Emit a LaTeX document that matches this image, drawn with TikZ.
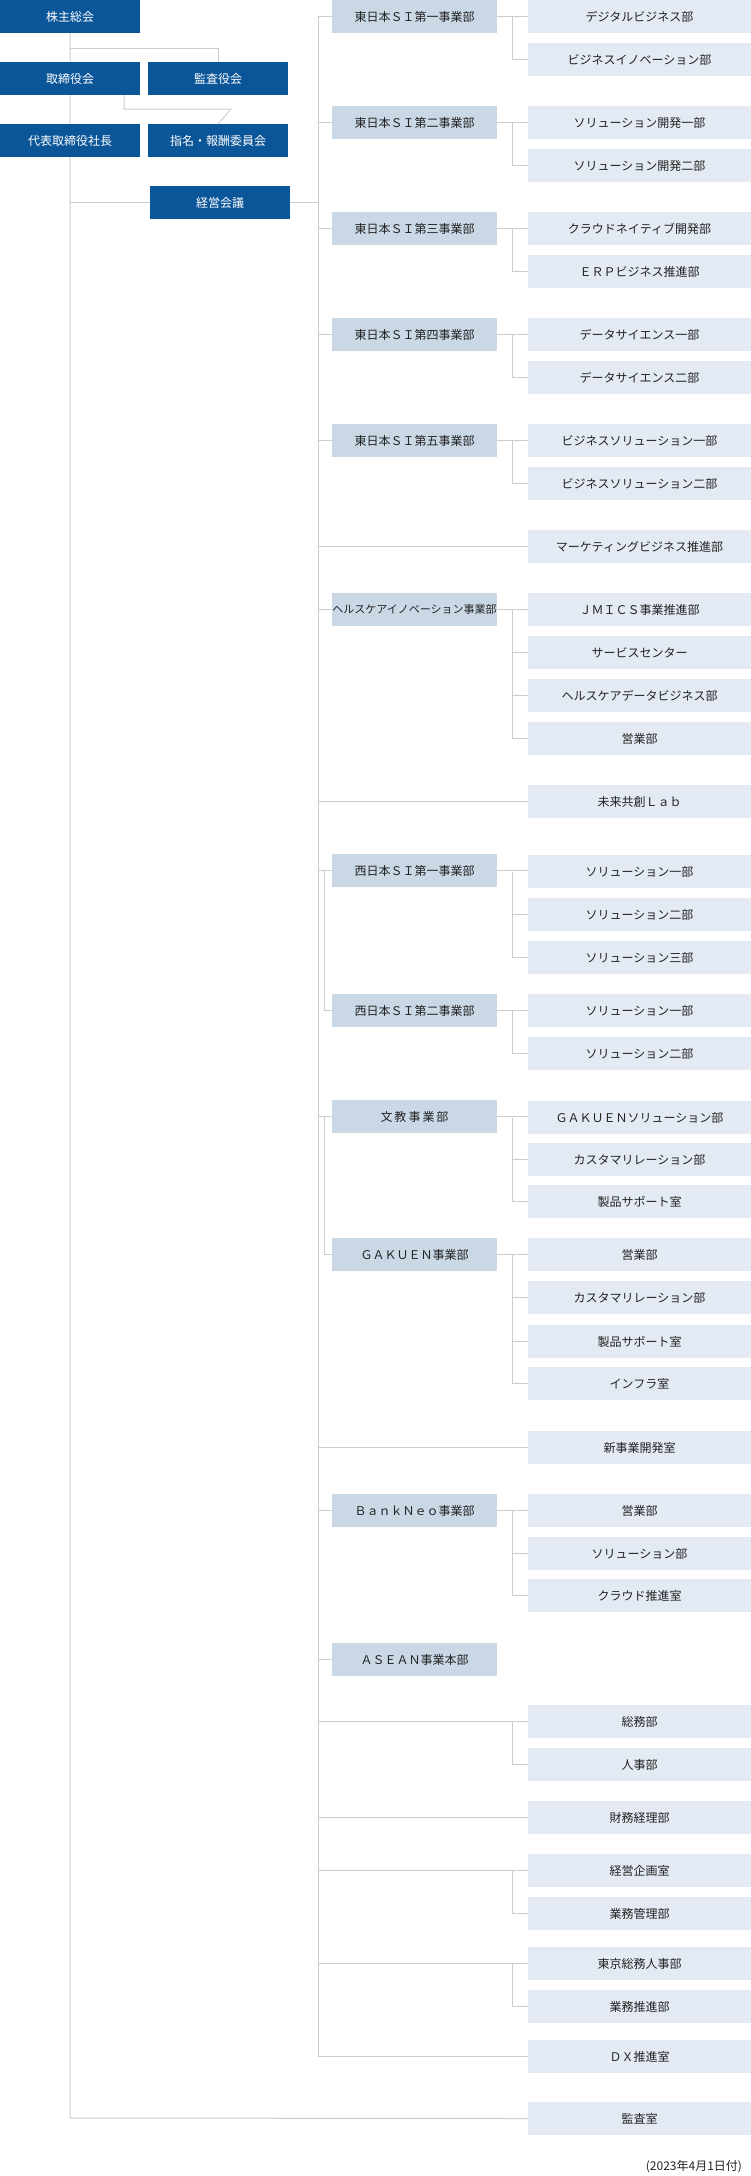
\documentclass[tikz,border=0pt]{standalone}
\usepackage{fontspec}
\setmainfont{Noto Sans CJK JP}
\begin{document}
\begin{tikzpicture}[x=1pt,y=-1pt,
  every node/.style={inner sep=0pt,outer sep=0pt,anchor=north west,font=\fontsize{12}{14}\selectfont},
  dark/.style={fill=dblue,text=white,minimum width=140,minimum height=33},
  head/.style={fill=headc,text=txt,minimum width=165,minimum height=33},
  leaf/.style={fill=leafc,text=txt,minimum width=223,minimum height=33},
  ln/.style={draw=lnc,line width=1pt}]
\definecolor{dblue}{HTML}{0B5599}
\definecolor{headc}{HTML}{CAD8E6}
\definecolor{leafc}{HTML}{E3EAF3}
\definecolor{lnc}{HTML}{CCCCCC}
\definecolor{txt}{HTML}{222222}
\useasboundingbox (0,0) rectangle (751,2176);
% left column
\node[dark] (kabu) at (0,0) {株主総会};
\node[dark] (tori) at (0,62) {取締役会};
\node[dark] (kan) at (148,62) {監査役会};
\node[dark] (dai) at (0,124) {代表取締役社長};
\node[dark] (shi) at (148,124) {指名・報酬委員会};
\node[dark] (kei) at (150,186) {経営会議};
\node[leaf] (kansa) at (528,2102) {監査室};
\coordinate (lt) at (70,33);
\coordinate (lb) at (70,2118);
\coordinate (rt) at (318,16);
\coordinate (rb) at (318,2057);
\begin{scope}[on background layer/.try]
\end{scope}
\draw[ln] (lt) -- (lb) -- (kansa.west);
\draw[ln] (70,48) -| (kan.north);
\draw[ln] (124,95) |- (231,109) -- (shi.north);
\draw[ln] (kei.west -| lt) -- (kei.west);
\draw[ln] (kei.east) -- (kei.east -| rt);
\draw[ln] (rt) -- (rb);
% redraw left boxes on top of lines
\node[dark] at (0,62) {取締役会};
\node[dark] at (0,124) {代表取締役社長};
% heads
\node[head] (h1) at (332,0) {東日本ＳＩ第一事業部};
\node[head] (h2) at (332,106) {東日本ＳＩ第二事業部};
\node[head] (h3) at (332,212) {東日本ＳＩ第三事業部};
\node[head] (h4) at (332,318) {東日本ＳＩ第四事業部};
\node[head] (h5) at (332,424) {東日本ＳＩ第五事業部};
\node[head] (hc) at (332,593) {\fontsize{11}{13}\selectfont ヘルスケアイノベーション事業部};
\node[head] (w1) at (332,854) {西日本ＳＩ第一事業部};
\node[head] (w2) at (332,994) {西日本ＳＩ第二事業部};
\node[head] (bk) at (332,1100) {文\hspace{2pt}教\hspace{2pt}事\hspace{2pt}業\hspace{2pt}部};
\node[head] (ga) at (332,1238) {ＧＡＫＵＥＮ事業部};
\node[head] (bn) at (332,1494) {ＢａｎｋＮｅｏ事業部};
\node[head] (as) at (332,1643) {ＡＳＥＡＮ事業本部};
% leaves
\node[leaf] (h1a) at (528,0) {デジタルビジネス部};
\node[leaf] (h1b) at (528,43) {ビジネスイノベーション部};
\node[leaf] (h2a) at (528,106) {ソリューション開発一部};
\node[leaf] (h2b) at (528,149) {ソリューション開発二部};
\node[leaf] (h3a) at (528,212) {クラウドネイティブ開発部};
\node[leaf] (h3b) at (528,255) {ＥＲＰビジネス推進部};
\node[leaf] (h4a) at (528,318) {データサイエンス一部};
\node[leaf] (h4b) at (528,361) {データサイエンス二部};
\node[leaf] (h5a) at (528,424) {ビジネスソリューション一部};
\node[leaf] (h5b) at (528,467) {ビジネスソリューション二部};
\node[leaf] (mk) at (528,530) {マーケティングビジネス推進部};
\node[leaf] (hca) at (528,593) {ＪＭＩＣＳ事業推進部};
\node[leaf] (hcb) at (528,636) {サービスセンター};
\node[leaf] (hcc) at (528,679) {ヘルスケアデータビジネス部};
\node[leaf] (hcd) at (528,722) {営業部};
\node[leaf] (mr) at (528,785) {未来共創Ｌａｂ};
\node[leaf] (w1a) at (528,855) {ソリューション一部};
\node[leaf] (w1b) at (528,898) {ソリューション二部};
\node[leaf] (w1c) at (528,941) {ソリューション三部};
\node[leaf] (w2a) at (528,994) {ソリューション一部};
\node[leaf] (w2b) at (528,1037) {ソリューション二部};
\node[leaf] (bka) at (528,1101) {ＧＡＫＵＥＮソリューション部};
\node[leaf] (bkb) at (528,1143) {カスタマリレーション部};
\node[leaf] (bkc) at (528,1185) {製品サポート室};
\node[leaf] (gaa) at (528,1238) {営業部};
\node[leaf] (gab) at (528,1281) {カスタマリレーション部};
\node[leaf] (gac) at (528,1325) {製品サポート室};
\node[leaf] (gad) at (528,1367) {インフラ室};
\node[leaf] (sj) at (528,1431) {新事業開発室};
\node[leaf] (bna) at (528,1494) {営業部};
\node[leaf] (bnb) at (528,1537) {ソリューション部};
\node[leaf] (bnc) at (528,1579) {クラウド推進室};
\node[leaf] (so) at (528,1705) {総務部};
\node[leaf] (jn) at (528,1748) {人事部};
\node[leaf] (zm) at (528,1801) {財務経理部};
\node[leaf] (kk) at (528,1854) {経営企画室};
\node[leaf] (gk) at (528,1897) {業務管理部};
\node[leaf] (tk) at (528,1947) {東京総務人事部};
\node[leaf] (gs) at (528,1990) {業務推進部};
\node[leaf] (dx) at (528,2040) {ＤＸ推進室};
% trunk to heads / direct leaves
\foreach \n in {h1,h2,h3,h4,h5,hc,w1,bk,bn,as}
  \draw[ln] (\n.west -| rt) -- (\n.west);
\foreach \n in {mk,mr,sj,so,zm,kk,tk,dx}
  \draw[ln] (\n.west -| rt) -- (\n.west);
% group brackets
\draw[ln] (w1.west) ++(-8,0) |- (w2.west);
\draw[ln] (bk.west) ++(-8,0) |- (ga.west);
% head to leaves
\foreach \h/\a/\rest in {h1/h1a/{h1b},h2/h2a/{h2b},h3/h3a/{h3b},h4/h4a/{h4b},h5/h5a/{h5b},
   hc/hca/{hcb,hcc,hcd},w1/w1a/{w1b,w1c},w2/w2a/{w2b},bk/bka/{bkb,bkc},ga/gaa/{gab,gac,gad},bn/bna/{bnb,bnc}}{
  \draw[ln] (\h.east) -- (\h.east -| \a.west);
  \foreach \r in \rest \draw[ln] (\a.west) ++(-16,0) |- (\r.west);
}
\draw[ln] (so.west) ++(-16,0) |- (jn.west);
\draw[ln] (kk.west) ++(-16,0) |- (gk.west);
\draw[ln] (tk.west) ++(-16,0) |- (gs.west);
\node[anchor=east,text=txt] (date) at (742,2167) {(2023年4月1日付)};
\end{tikzpicture}
\end{document}
